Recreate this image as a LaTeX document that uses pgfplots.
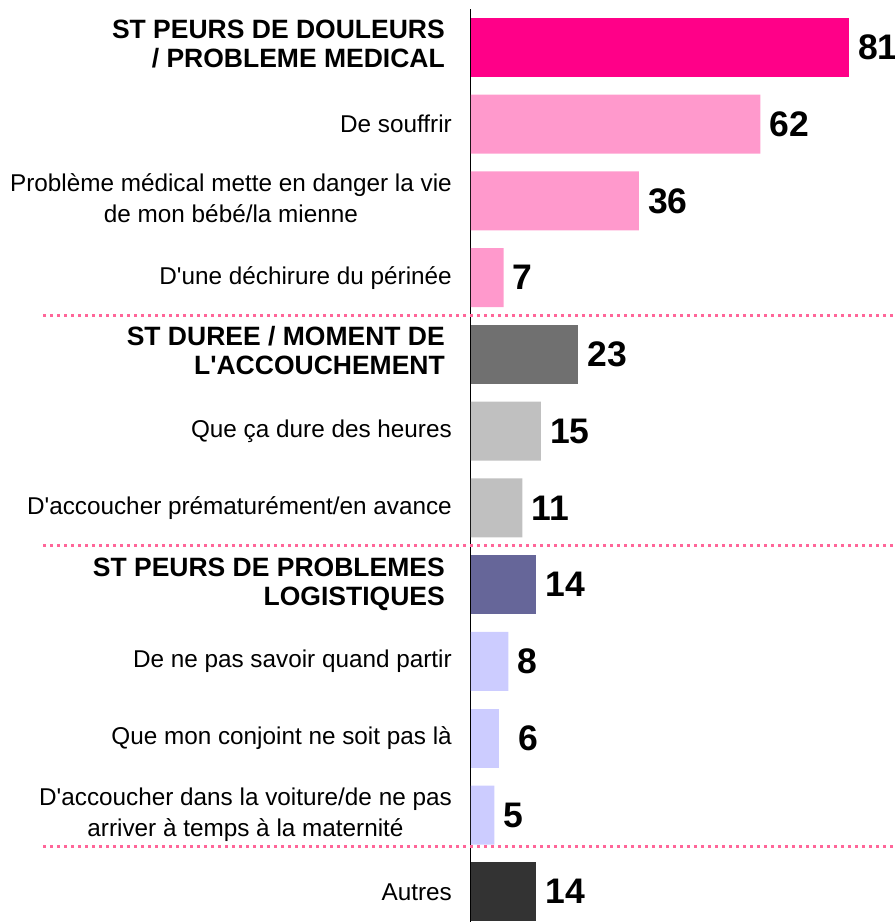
\documentclass[border=0pt]{standalone}
\usepackage{fontspec}
\setmainfont{Liberation Sans}
\usepackage{pgfplots}
\pgfplotsset{compat=1.18}
\definecolor{rose}{HTML}{FF0088}
\definecolor{roseclair}{HTML}{FF99CC}
\definecolor{grisfonce}{HTML}{707070}
\definecolor{grisclair}{HTML}{C0C0C0}
\definecolor{violet}{HTML}{666699}
\definecolor{lavande}{HTML}{CCCCFF}
\definecolor{anthracite}{HTML}{333333}
\definecolor{sep}{HTML}{FF6699}
\newcommand\ap{\textquotesingle}
\newcommand\hdr[1]{{\bfseries\fontsize{26.5}{29}\selectfont\begin{tabular}{@{}r@{}}#1\end{tabular}}\hspace*{7pt}}
\newcommand\two[1]{\begin{tabular}{@{}c@{}}#1\end{tabular}}
\renewcommand\arraystretch{1}
\begin{document}
\begin{tikzpicture}
\begin{axis}[
    at={(0,0)}, anchor=south west,
    scale only axis, width=424pt, height=913pt,
    xmin=0, xmax=90.86, ymin=-0.5, ymax=11.394, y dir=reverse,
    axis x line=none, axis y line*=left,
    y axis line style={-, black, line width=1pt},
    xtick=\empty, ytick={0,...,11}, major tick length=0pt,
    yticklabels={
      {\hdr{ST PEURS DE DOULEURS\\/ PROBLEME MEDICAL}},
      De souffrir,
      {\two{Problème médical mette en danger la vie\\de mon bébé/la mienne}},
      D\ap une déchirure du périnée,
      {\hdr{ST DUREE / MOMENT DE\\L\ap ACCOUCHEMENT}},
      Que ça dure des heures,
      D\ap accoucher prématurément/en avance,
      {\hdr{ST PEURS DE PROBLEMES\\LOGISTIQUES}},
      De ne pas savoir quand partir,
      Que mon conjoint ne soit pas là,
      {\two{D\ap accoucher dans la voiture/de ne pas\\arriver à temps à la maternité}},
      Autres},
    yticklabel style={font=\fontsize{24.3}{30.7}\selectfont, inner sep=0pt, xshift=-19pt},
    clip=false,
    xbar, bar shift=0pt, bar width=59pt,
    nodes near coords,
    /pgf/number format/assume math mode=true,
    every node near coord/.append style={anchor=west, inner sep=0pt, xshift=9pt,
      font=\bfseries\fontsize{35.5}{35}\selectfont, text=black},
]
\addplot[draw=none, fill=rose] coordinates {(81,0)};
\addplot[draw=none, fill=roseclair] coordinates {(62,1) (36,2) (7,3)};
\addplot[draw=none, fill=grisfonce] coordinates {(23,4)};
\addplot[draw=none, fill=grisclair] coordinates {(15,5) (11,6)};
\addplot[draw=none, fill=violet] coordinates {(14,7)};
\addplot[draw=none, fill=lavande] coordinates {(8,8) (5,10)};
\addplot[draw=none, fill=lavande,
    every node near coord/.append style={xshift=10pt}] coordinates {(6,9)};
\addplot[draw=none, fill=anthracite] coordinates {(14,11)};
% separateurs pointilles
\draw[sep, line width=3pt, dash pattern=on 3pt off 4pt] (axis cs:-91.7,3.498) -- (axis cs:96,3.498);
\draw[sep, line width=3pt, dash pattern=on 3pt off 4pt] (axis cs:-91.7,6.495) -- (axis cs:96,6.495);
\draw[sep, line width=3pt, dash pattern=on 3pt off 4pt] (axis cs:-91.7,10.404) -- (axis cs:96,10.404);
\end{axis}
\pgfresetboundingbox
\path[use as bounding box] (-471pt,0pt) rectangle (424pt,922pt);
\end{tikzpicture}
\end{document}
